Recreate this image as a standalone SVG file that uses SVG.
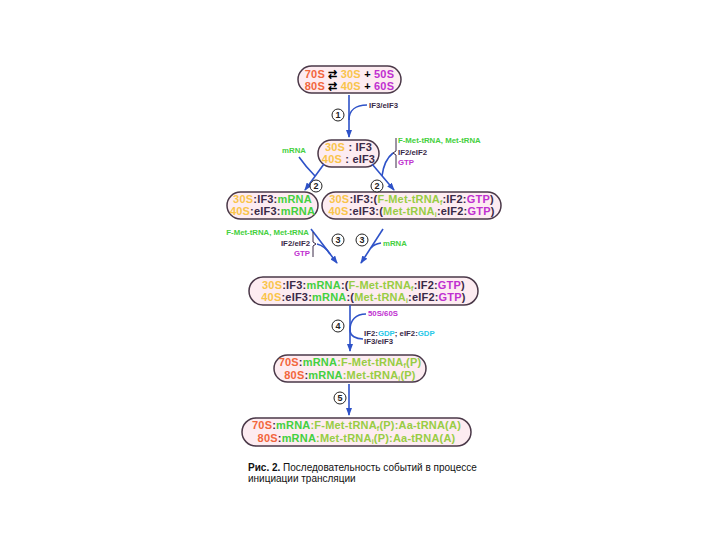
<svg xmlns="http://www.w3.org/2000/svg" width="720" height="540" viewBox="0 0 720 540">
<style>
.t{font-family:"Liberation Sans",Arial,sans-serif;font-weight:bold;font-size:11px;letter-spacing:0.2px;text-anchor:middle}
.s{font-family:"Liberation Sans",Arial,sans-serif;font-size:7.8px;font-weight:bold}
.box{fill:#fdecf1;stroke:#4a3848;stroke-width:1.5}
.a{fill:none;stroke:#2e52c8;stroke-width:1.6}
.br{fill:none;stroke:#3a2a48;stroke-width:1}
.c{fill:#fff;stroke:#222;stroke-width:1}
.n{font-family:"Liberation Sans",Arial,sans-serif;font-size:9px;font-weight:bold;text-anchor:middle;fill:#222}
.cap{font-family:"Liberation Sans",Arial,sans-serif;font-size:10px;fill:#111}
.o{fill:#f2663c}.y{fill:#f9c44a}.m{fill:#c030d0}.g{fill:#44d040}.l{fill:#98cc44}.d{fill:#3a2a48}.k{fill:#000}.cy{fill:#28c8e8}
.sub{font-size:7px}
</style>
<defs>
<marker id="ah" markerUnits="userSpaceOnUse" markerWidth="8" markerHeight="6" refX="7" refY="3" orient="auto">
<path d="M0,0 L8,3 L0,6 z" fill="#2e52c8"/>
</marker>
</defs>

<g id="n1">
<rect class="box" x="298" y="66" width="103" height="27" rx="13.5"/>
<text class="t" x="349.5" y="78"><tspan class="o">70S</tspan><tspan class="k"> ⇄ </tspan><tspan class="y">30S</tspan><tspan class="k"> + </tspan><tspan class="m">50S</tspan></text>
<text class="t" x="349.5" y="90"><tspan class="o">80S</tspan><tspan class="k"> ⇄ </tspan><tspan class="y">40S</tspan><tspan class="k"> + </tspan><tspan class="m">60S</tspan></text>
</g>

<g id="n2">
<rect class="box" x="318" y="140" width="61" height="27" rx="13.5"/>
<text class="t" x="348.5" y="151"><tspan class="y">30S</tspan><tspan class="d"> : IF3</tspan></text>
<text class="t" x="348.5" y="163"><tspan class="y">40S</tspan><tspan class="d"> : eIF3</tspan></text>
</g>

<g id="n3a">
<rect class="box" x="227" y="192" width="91" height="27" rx="13.5"/>
<text class="t" x="272.5" y="203"><tspan class="y">30S</tspan><tspan class="d">:IF3:</tspan><tspan class="g">mRNA</tspan></text>
<text class="t" x="272.5" y="215"><tspan class="y">40S</tspan><tspan class="d">:eIF3:</tspan><tspan class="g">mRNA</tspan></text>
</g>

<g id="n3b">
<rect class="box" x="322" y="192" width="179" height="27" rx="13.5"/>
<text class="t" x="411.5" y="203"><tspan class="y">30S</tspan><tspan class="d">:IF3:(</tspan><tspan class="l">F-Met-tRNA</tspan><tspan class="l sub" dy="2">f</tspan><tspan class="d" dy="-2">:IF2:</tspan><tspan class="m">GTP</tspan><tspan class="d">)</tspan></text>
<text class="t" x="411.5" y="215"><tspan class="y">40S</tspan><tspan class="d">:eIF3:(</tspan><tspan class="l">Met-tRNA</tspan><tspan class="l sub" dy="2">i</tspan><tspan class="d" dy="-2">:eIF2:</tspan><tspan class="m">GTP</tspan><tspan class="d">)</tspan></text>
</g>

<g id="n4">
<rect class="box" x="249" y="277" width="229" height="28" rx="14"/>
<text class="t" x="363.5" y="289"><tspan class="y">30S</tspan><tspan class="d">:IF3:</tspan><tspan class="g">mRNA</tspan><tspan class="d">:(</tspan><tspan class="l">F-Met-tRNA</tspan><tspan class="l sub" dy="2">f</tspan><tspan class="d" dy="-2">:IF2:</tspan><tspan class="m">GTP</tspan><tspan class="d">)</tspan></text>
<text class="t" x="363.5" y="301"><tspan class="y">40S</tspan><tspan class="d">:eIF3:</tspan><tspan class="g">mRNA</tspan><tspan class="d">:(</tspan><tspan class="l">Met-tRNA</tspan><tspan class="l sub" dy="2">i</tspan><tspan class="d" dy="-2">:eIF2:</tspan><tspan class="m">GTP</tspan><tspan class="d">)</tspan></text>
</g>

<g id="n5">
<rect class="box" x="274" y="355" width="152" height="27" rx="13.5"/>
<text class="t" x="350" y="366"><tspan class="o">70S</tspan><tspan class="d">:</tspan><tspan class="g">mRNA</tspan><tspan class="l">:F-Met-tRNA</tspan><tspan class="l sub" dy="2">f</tspan><tspan class="l" dy="-2">(P)</tspan></text>
<text class="t" x="350" y="379"><tspan class="o">80S</tspan><tspan class="d">:</tspan><tspan class="g">mRNA</tspan><tspan class="l">:Met-tRNA</tspan><tspan class="l sub" dy="2">i</tspan><tspan class="l" dy="-2">(P)</tspan></text>
</g>

<g id="n6">
<rect class="box" x="242" y="418" width="229" height="28" rx="14"/>
<text class="t" x="356.5" y="429"><tspan class="o">70S</tspan><tspan class="d">:</tspan><tspan class="g">mRNA</tspan><tspan class="l">:F-Met-tRNA</tspan><tspan class="l sub" dy="2">f</tspan><tspan class="l" dy="-2">(P):Aa-tRNA(A)</tspan></text>
<text class="t" x="356.5" y="442"><tspan class="o">80S</tspan><tspan class="d">:</tspan><tspan class="g">mRNA</tspan><tspan class="l">:Met-tRNA</tspan><tspan class="l sub" dy="2">i</tspan><tspan class="l" dy="-2">(P):Aa-tRNA(A)</tspan></text>
</g>

<g id="connectors">
<!-- step 1 -->
<path class="a" d="M349,95 L349,137" marker-end="url(#ah)"/>
<path class="a" d="M367,105 C356,105 349,110 349,120"/>
<!-- step 2 -->
<path class="a" d="M324,164 L305,190" marker-end="url(#ah)"/>
<path class="a" d="M299,157 Q306,167 315,176"/>
<path class="a" d="M372,164 L394,190" marker-end="url(#ah)"/>
<path class="a" d="M393,153 Q384,160 382,176"/>
<path class="br" d="M396,138 L396,151 L393,153 L396,155 L396,168"/>
<!-- step 3 -->
<path class="a" d="M311,229 L337,263" marker-end="url(#ah)"/>
<path class="br" d="M313,232 L313,242 L316,244 L313,246 L313,257"/>
<path class="a" d="M317,244 Q325,246 330,254"/>
<path class="a" d="M383,229 L361,263" marker-end="url(#ah)"/>
<path class="a" d="M381,243 Q374,244 371,248"/>
<!-- step 4 -->
<path class="a" d="M350,305 L350,351" marker-end="url(#ah)"/>
<path class="a" d="M366,314 C356,314 350,320 350,330"/>
<path class="a" d="M350,330 C350,336 356,339 363,339"/>
<!-- step 5 -->
<path class="a" d="M349,384 L349,415" marker-end="url(#ah)"/>
</g>

<g id="labels">
<text class="s d" x="369" y="108">IF3/eIF3</text>
<text class="s g" x="294" y="153" text-anchor="middle">mRNA</text>
<text class="s g" x="398" y="143">F-Met-tRNA, Met-tRNA</text>
<text class="s d" x="398" y="155">IF2/eIF2</text>
<text class="s m" x="398" y="165">GTP</text>
<text class="s g" x="309" y="235" text-anchor="end">F-Met-tRNA, Met-tRNA</text>
<text class="s d" x="310" y="246" text-anchor="end">IF2/eIF2</text>
<text class="s m" x="310" y="256" text-anchor="end">GTP</text>
<text class="s g" x="383" y="246">mRNA</text>
<text class="s m" x="368" y="316">50S/60S</text>
<text class="s d" x="364" y="336">IF2:<tspan class="cy">GDP</tspan>; eIF2:<tspan class="cy">GDP</tspan></text>
<text class="s d" x="364" y="344">IF3/eIF3</text>
</g>

<g id="steps">
<circle class="c" cx="338" cy="115" r="6"/><text class="n" x="338" y="118.2">1</text>
<circle class="c" cx="316" cy="186" r="6"/><text class="n" x="316" y="189.2">2</text>
<circle class="c" cx="377" cy="186" r="6"/><text class="n" x="377" y="189.2">2</text>
<circle class="c" cx="338" cy="240" r="6"/><text class="n" x="338" y="243.2">3</text>
<circle class="c" cx="362" cy="240" r="6"/><text class="n" x="362" y="243.2">3</text>
<circle class="c" cx="338" cy="326" r="6"/><text class="n" x="338" y="329.2">4</text>
<circle class="c" cx="340" cy="398" r="6"/><text class="n" x="340" y="401.2">5</text>
</g>

<g id="caption">
<text class="cap" x="248" y="471"><tspan font-weight="bold">Рис. 2.</tspan> Последовательность событий в процессе</text>
<text class="cap" x="248" y="482">инициации трансляции</text>
</g>
</svg>
